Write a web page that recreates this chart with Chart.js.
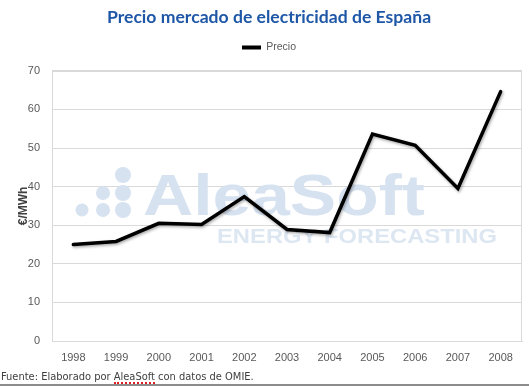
<!DOCTYPE html>
<html><head><meta charset="utf-8">
<script src="https://cdn.jsdelivr.net/npm/chart.js@4/dist/chart.umd.min.js"></script>
<style>
html,body{margin:0;padding:0;background:#fff;}
#wrap{position:absolute;left:0;top:0;width:529px;height:386px;}
#foot{position:absolute;left:1px;top:370px;font-family:"DejaVu Sans Condensed","DejaVu Sans",sans-serif;font-size:11px;line-height:13px;color:#404040;white-space:nowrap;}
#foot span{display:inline-block;line-height:11px;border-bottom:2px dotted #e02020;}
#line{position:absolute;left:0;top:384px;width:529px;height:2px;background:#8c8c8c;}
</style></head><body>
<div id="wrap"><canvas id="c" width="529" height="386"></canvas></div>
<div id="foot">Fuente: Elaborado por <span>AleaSoft</span> con datos de OMIE.</div>
<div id="line"></div>
<script>
const years = ["1998","1999","2000","2001","2002","2003","2004","2005","2006","2007","2008"];
const precio = [25.0, 25.8, 30.5, 30.2, 37.4, 28.9, 28.1, 53.6, 50.7, 39.5, 64.6];
const seriesName = "Precio";
const titleText = "Precio mercado de electricidad de España";
const yTitle = "€/MWh";

const watermark = {
  id: 'watermark',
  beforeDatasetsDraw(chart) {
    const ctx = chart.ctx;
    ctx.save();
    ctx.fillStyle = '#d6e2f0';
    const dots = [[123,175,8],[103,193,7],[123,193,8],[82,210,6.5],[103,210,7],[123,210,8]];
    dots.forEach(d => { ctx.beginPath(); ctx.arc(d[0], d[1], d[2], 0, Math.PI*2); ctx.fill(); });
    ctx.font = 'bold 58px "Liberation Sans", Arial, sans-serif';
    ctx.textBaseline = 'alphabetic';
    let w = ctx.measureText('AleaSoft').width;
    ctx.save();
    ctx.translate(143, 215);
    ctx.scale(282 / w, 1);
    ctx.fillText('AleaSoft', 0, 0);
    ctx.restore();
    ctx.fillStyle = '#dde7f2';
    ctx.font = 'bold 20px "Liberation Sans", Arial, sans-serif';
    w = ctx.measureText('ENERGY FORECASTING').width;
    ctx.save();
    ctx.translate(217, 243);
    ctx.scale(280 / w, 1);
    ctx.fillText('ENERGY FORECASTING', 0, 0);
    ctx.restore();
    ctx.restore();
  },
  beforeDatasetDraw(chart) {
    const ctx = chart.ctx;
    ctx.save();
    ctx.shadowColor = 'rgba(0,0,0,0.35)';
    ctx.shadowBlur = 3;
    ctx.shadowOffsetX = 1;
    ctx.shadowOffsetY = 1.5;
  },
  afterDatasetDraw(chart) { chart.ctx.restore(); },
  afterDraw(chart) {
    const a = chart.chartArea, ctx = chart.ctx;
    ctx.save();
    ctx.strokeStyle = '#d9d9d9';
    ctx.lineWidth = 1;
    ctx.strokeRect(Math.round(a.left)+0.5, Math.round(a.top)+0.5, Math.round(a.right-a.left)-1, Math.round(a.bottom-a.top));
    ctx.restore();
  }
};

new Chart(document.getElementById('c'), {
  type: 'line',
  data: {
    labels: years,
    datasets: [{
      label: seriesName,
      data: precio,
      borderColor: '#000000',
      backgroundColor: '#000000',
      borderWidth: 3.5,
      pointRadius: 0,
      tension: 0,
      borderCapStyle: 'round',
      borderJoinStyle: 'miter'
    }]
  },
  plugins: [watermark],
  options: {
    responsive: false,
    animation: false,
    events: [],
    layout: { padding: { left: 16, right: 7, top: 0, bottom: 25 } },
    plugins: {
      title: {
        display: true,
        text: titleText,
        color: '#1f57a7',
        font: { family: 'Lato, "Open Sans", sans-serif', size: 17.6, weight: 'bold', lineHeight: 1.2 },
        padding: { top: 6.5, bottom: 6.4 }
      },
      subtitle: {
        display: true,
        text: ' ',
        weight: 500,
        font: { size: 1, lineHeight: 1 },
        padding: { top: 0, bottom: 7 }
      },
      legend: {
        display: true,
        position: 'top',
        labels: {
          boxWidth: 19,
          boxHeight: 4,
          color: '#595959',
          font: { family: '"Liberation Sans", Arial, sans-serif', size: 10.5 },
          padding: 8.3,
          generateLabels(chart) {
            return chart.data.datasets.map((ds, i) => ({
              text: ds.label, fillStyle: '#000000', strokeStyle: '#000000',
              lineWidth: 0, hidden: false, datasetIndex: i, fontColor: '#595959'
            }));
          }
        }
      },
      tooltip: { enabled: false }
    },
    scales: {
      x: {
        offset: true,
        grid: { display: false, drawTicks: false },
        border: { display: true, color: '#d9d9d9' },
        ticks: { color: '#595959', font: { family: '"Liberation Sans", Arial, sans-serif', size: 11 }, padding: 10, maxRotation: 0, autoSkip: false },
        afterFit(s) { s.height = 20; }
      },
      y: {
        min: 0, max: 70,
        grid: { color: '#d9d9d9', drawTicks: false },
        border: { display: true, color: '#d9d9d9' },
        ticks: { stepSize: 10, color: '#595959', font: { family: '"Liberation Sans", Arial, sans-serif', size: 11 }, padding: 12 },
        title: { display: true, text: yTitle, color: '#404040', font: { family: '"Liberation Sans", Arial, sans-serif', size: 12, weight: 'bold', lineHeight: 1.2 }, padding: 0 },
        afterFit(s) { s.width = 36; }
      }
    }
  }
});
</script>
</body></html>
